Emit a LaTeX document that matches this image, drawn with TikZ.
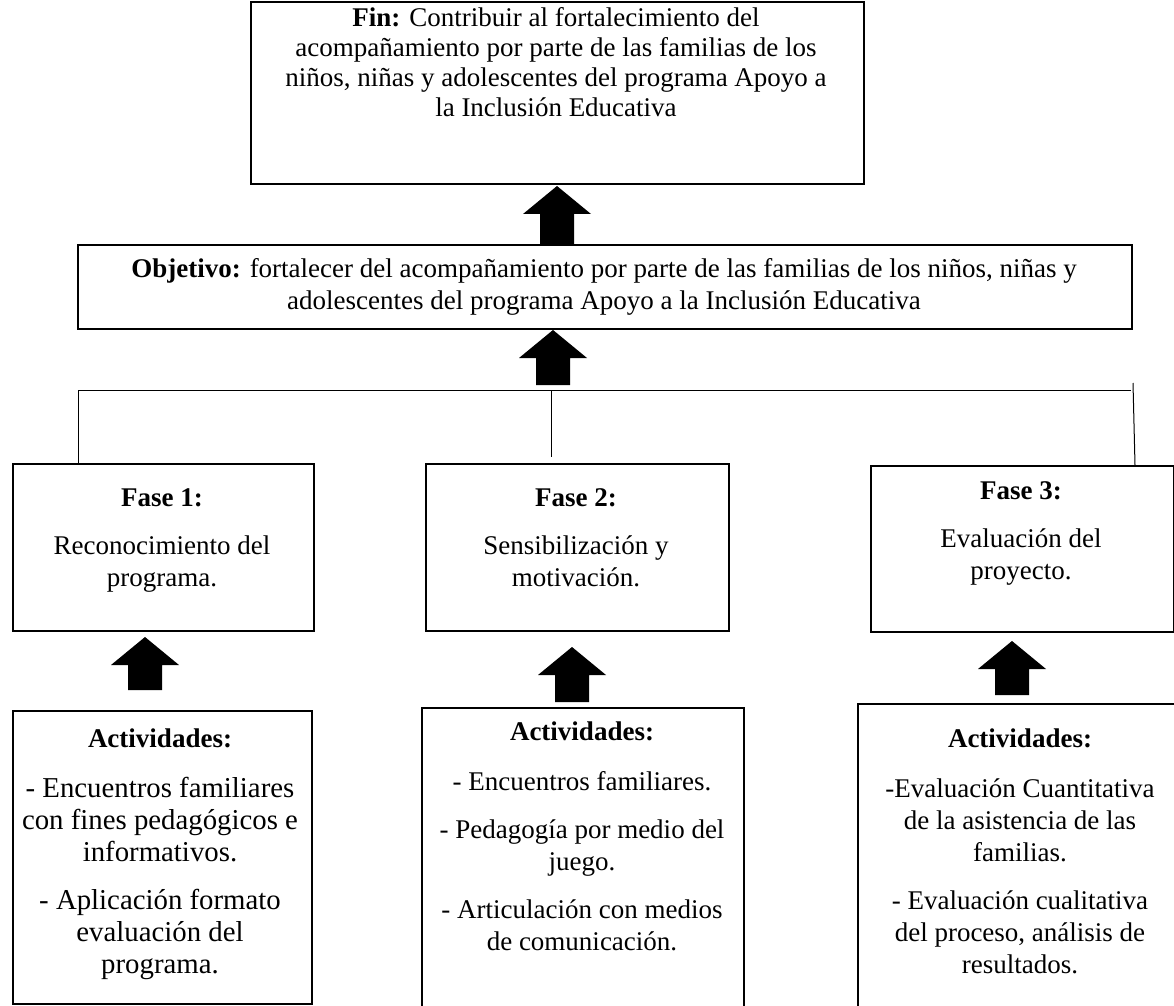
\documentclass[tikz,border=0pt]{standalone}
\usepackage{fontspec}
\setmainfont{Liberation Serif}
\usetikzlibrary{calc}
\newcommand{\blkarrow}[2]{%
  \path[blockarrow] ($(#1)+(-17,0)$) -- ++(34,0) -- ++(0,-#2) -- ++(17,0)
    -- ++(-34,-28) -- ++(-34,28) -- ++(17,0) -- cycle;}
\newcommand{\bodyA}{\fontsize{14.4}{16}\selectfont}
\begin{document}
\begin{tikzpicture}[x=0.5pt,y=-0.5pt,
  box/.style={draw, line width=1pt, inner sep=0pt, anchor=north west, rectangle},
  txt/.style={align=center, inner sep=0pt, anchor=north, font=\fontsize{13.5}{16}\selectfont},
  conn/.style={line width=0.5pt},
  blockarrow/.style={fill=black}]
\useasboundingbox (0,0) rectangle (1174,1006);
\clip (0,0) rectangle (1174,1006);
% boxes
\node[box, minimum width=306.5pt, minimum height=91pt] (fin) at (250,1) {};
\node[box, minimum width=527pt, minimum height=42pt] (obj) at (77,244) {};
\node[box, minimum width=150.5pt, minimum height=83.5pt] (f1) at (12,463) {};
\node[box, minimum width=151.5pt, minimum height=83.5pt] (f2) at (425,463) {};
\node[box, minimum width=151.5pt, minimum height=83pt] (f3) at (870,465) {};
\node[box, minimum width=149.5pt, minimum height=146.5pt] (a1) at (12,710) {};
\node[box, minimum width=161pt, minimum height=156.5pt] (a2) at (421,707) {};
\node[box, minimum width=163pt, minimum height=158.5pt] (a3) at (857,703) {};
% texts
\node[txt, font=\fontsize{13.5}{15}\selectfont] (tfin) at (556,7) {\textbf{Fin:} Contribuir al fortalecimiento del\\ acompañamiento por parte de las familias de los\\ niños, niñas y adolescentes del programa Apoyo a\\ la Inclusión Educativa};
\node[txt] (tobj) at (604,258) {\textbf{Objetivo:} fortalecer del acompañamiento por parte de las familias de los niños, niñas y\\ adolescentes del programa Apoyo a la Inclusión Educativa};
\node[txt] (tf1) at (162,488) {\textbf{Fase 1:}\\[8pt] Reconocimiento del\\ programa.};
\node[txt] (tf2) at (576,488) {\textbf{Fase 2:}\\[8pt] Sensibilización y\\ motivación.};
\node[txt] (tf3) at (1021,481) {\textbf{Fase 3:}\\[8pt] Evaluación del\\ proyecto.};
\node[txt] (ta1) at (160,728) {\textbf{Actividades:}\\[9pt] {\bodyA - Encuentros familiares}\\ {\bodyA con fines pedagógicos e}\\ {\bodyA informativos.}\\[8pt] {\bodyA - Aplicación formato}\\ {\bodyA evaluación del}\\ {\bodyA programa.}};
\node[txt] (ta2) at (582,721) {\textbf{Actividades:}\\[9pt] - Encuentros familiares.\\[8pt] - Pedagogía por medio del\\ juego.\\[8pt] - Articulación con medios\\ de comunicación.};
\node[txt] (ta3) at (1020,728) {\textbf{Actividades:}\\[9pt] -Evaluación Cuantitativa\\ de la asistencia de las\\ familias.\\[8pt] - Evaluación cualitativa\\ del proceso, análisis de\\ resultados.};
% tree connectors
\coordinate (hl) at (78,390);
\coordinate (hm) at (551,390);
\coordinate (hr) at (1131,390);
\coordinate (hrt) at (1133,383);
\coordinate (f2top) at ($(hm |- f2.north)+(0,-6)$);
\coordinate (f3top) at ($(f3.north west)+(265,0)$);
\draw[conn] (hl) -- (hr);
\draw[conn] (hl) -- (hl |- f1.north);
\draw[conn] (hm) -- (f2top);
\draw[conn] (hrt) -- (f3top);
% block arrows
\coordinate (ar1) at (557,244);
\coordinate (ar2) at (553,385);
\coordinate (ar3) at (145,690);
\coordinate (ar4) at (572,702);
\coordinate (ar5) at (1012,695);
\blkarrow{ar1}{30}
\blkarrow{ar2}{27}
\blkarrow{ar3}{25}
\blkarrow{ar4}{27}
\blkarrow{ar5}{26}
\end{tikzpicture}
\end{document}
